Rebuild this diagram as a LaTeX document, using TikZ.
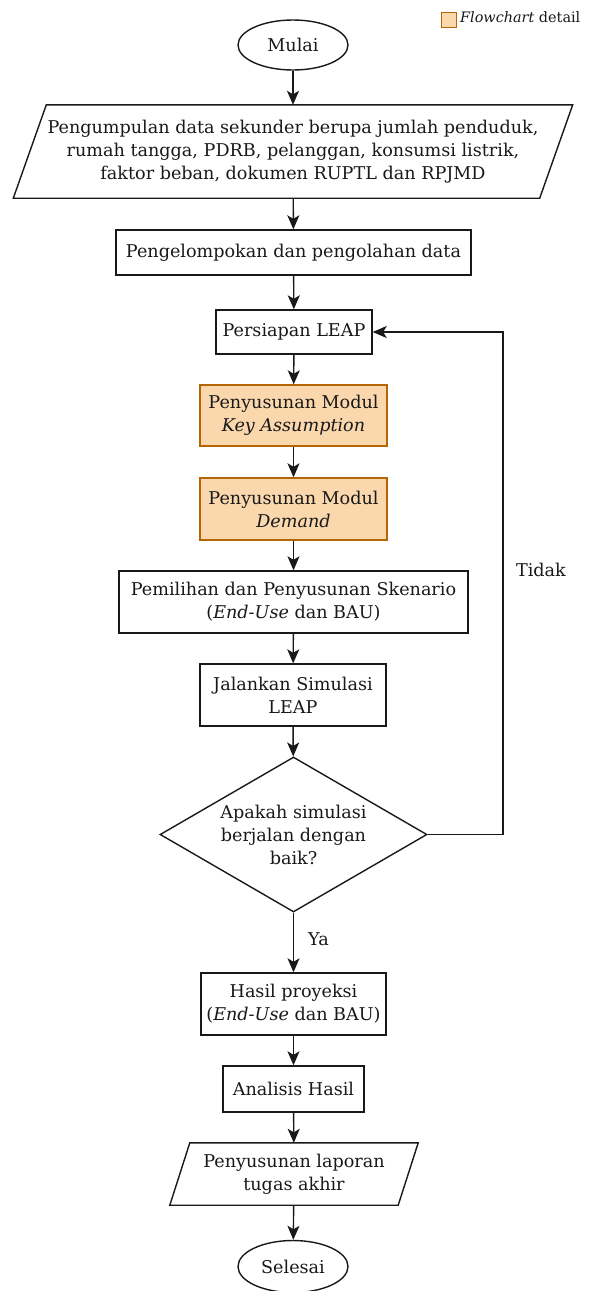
\documentclass[tikz,border=0pt]{standalone}
\usepackage{fontspec}
\setmainfont{DejaVu Serif}
\usetikzlibrary{shapes.geometric,arrows.meta,calc}
\definecolor{orfill}{HTML}{FAD7AC}
\definecolor{ordraw}{HTML}{B46504}
\begin{document}
\begin{tikzpicture}[x=1pt,y=-1pt,
  every node/.style={font=\fontsize{17.6}{23}\selectfont, text=black!90, align=center, inner sep=0pt},
  ln/.style={line width=1.4pt, draw=black!90},
  proc/.style={ln, draw, rectangle, fill=white},
  detail/.style={proc, fill=orfill, draw=ordraw},
  term/.style={ln, draw, ellipse, minimum width=110pt},
  io/.style={rectangle},
  dec/.style={ln, draw, diamond, minimum width=267pt, minimum height=155pt, aspect=1.72},
  arr/.style={ln, -{Stealth[length=14pt,width=12pt,inset=3.5pt]}},
  lbl/.style={font=\fontsize{17.6}{20}\selectfont}
]
\useasboundingbox (0,0) rectangle (593,1291);

% legend
\node[detail, minimum width=15pt, minimum height=15pt, line width=1.2pt] (legbox) at (449,20) {};
\node[anchor=west, font=\fontsize{14.4}{16}\selectfont] (legtext) at (460,17) {\textit{Flowchart} detail};

\node[term, minimum height=50pt] (mulai) at (293,45) {Mulai};

\node[io, minimum width=526pt, minimum height=93pt] (data) at (293,151.5)
  {Pengumpulan data sekunder berupa jumlah penduduk,\\rumah tangga, PDRB, pelanggan, konsumsi listrik,\\faktor beban, dokumen RUPTL dan RPJMD};
\draw[ln] ($(data.north west)+(16.5,0)$) -- ($(data.north east)+(16.5,0)$)
  -- ($(data.south east)+(-16.5,0)$) -- ($(data.south west)+(-16.5,0)$) -- cycle;

\node[proc, minimum width=355pt, minimum height=45pt] (kelompok) at (293.5,252.5) {Pengelompokan dan pengolahan data};
\node[proc, minimum width=156pt, minimum height=44pt] (persiapan) at (294,332) {Persiapan LEAP};
\node[detail, minimum width=187pt, minimum height=61pt] (key) at (293.5,415.5) {Penyusunan Modul\\\textit{Key Assumption}};
\node[detail, minimum width=187pt, minimum height=62pt] (demand) at (293.5,509) {Penyusunan Modul\\\textit{Demand}};
\node[proc, minimum width=349pt, minimum height=62pt] (skenario) at (293.5,602) {Pemilihan dan Penyusunan Skenario\\(\textit{End-Use} dan BAU)};
\node[proc, minimum width=186pt, minimum height=62pt] (jalankan) at (293,695) {Jalankan Simulasi\\LEAP};
\node[dec] (cek) at (293.5,834.5) {Apakah simulasi\\berjalan dengan\\baik?};
\node[proc, minimum width=185pt, minimum height=62pt] (hasil) at (293.5,1004) {Hasil proyeksi\\(\textit{End-Use} dan BAU)};
\node[proc, minimum width=141pt, minimum height=46pt] (analisis) at (293.5,1089) {Analisis Hasil};

\node[io, minimum width=228pt, minimum height=62pt] (laporan) at (294,1174) {Penyusunan laporan\\tugas akhir};
\draw[ln] ($(laporan.north west)+(10,0)$) -- ($(laporan.north east)+(10,0)$)
  -- ($(laporan.south east)+(-10,0)$) -- ($(laporan.south west)+(-10,0)$) -- cycle;

\node[term, minimum height=52pt] (selesai) at (293,1266.5) {Selesai};

\draw[arr] (mulai) -- (data);
\draw[arr] (data) -- (kelompok);
\draw[arr] (kelompok) -- (persiapan);
\draw[arr] (persiapan) -- (key);
\draw[arr] (key) -- (demand);
\draw[arr] (demand) -- (skenario);
\draw[arr] (skenario) -- (jalankan);
\draw[arr] (jalankan) -- (cek);
\draw[arr] (cek) -- node[lbl, pos=0.45, right=14pt] (ya) {Ya} (hasil);
\draw[arr] (hasil) -- (analisis);
\draw[arr] (analisis) -- (laporan);
\draw[arr] (laporan) -- (selesai);

\coordinate (loop) at (503,332);
\draw[arr] (cek.east) -| (loop) -- (persiapan.east);
\node[lbl] (tidak) at (541,570) {Tidak};
\end{tikzpicture}
\end{document}
